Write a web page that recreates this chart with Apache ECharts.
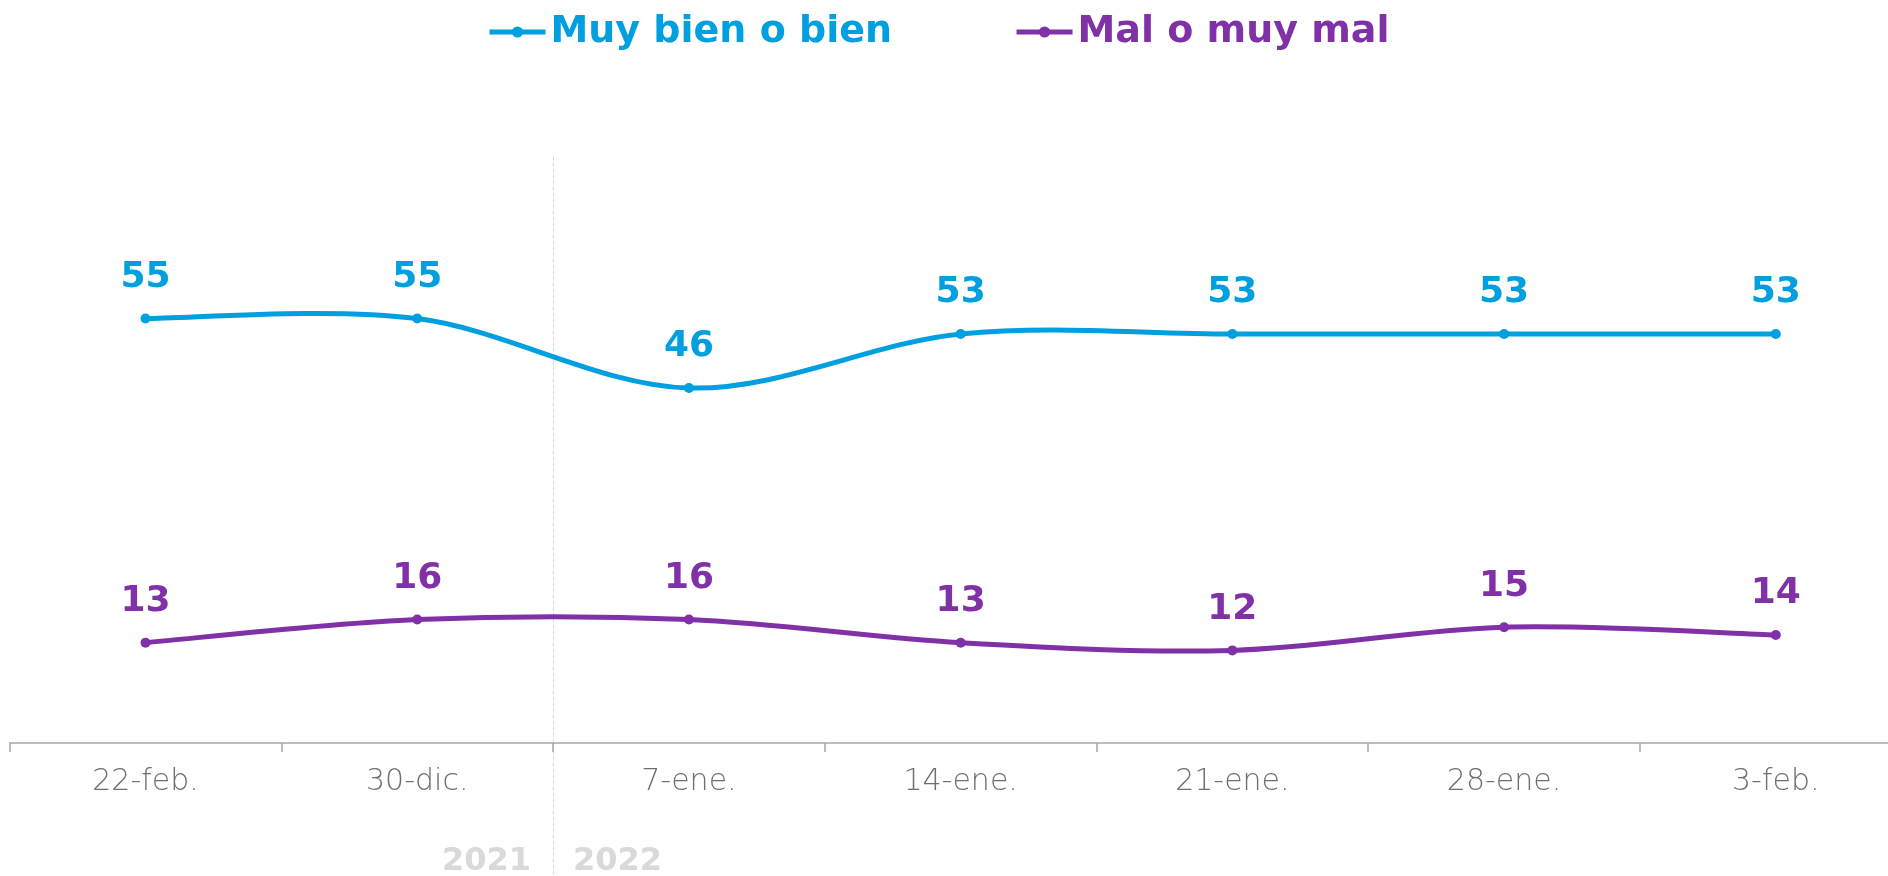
<!DOCTYPE html>
<html>
<head>
<meta charset="utf-8">
<script src="https://cdn.jsdelivr.net/npm/echarts@6/dist/echarts.min.js"></script>
<style>
  html, body { margin: 0; padding: 0; background: #fff; }
  #chart { width: 1888px; height: 876px; }
</style>
</head>
<body>
<div id="chart"></div>
<script>
const categories = ['22-feb.', '30-dic.', '7-ene.', '14-ene.', '21-ene.', '28-ene.', '3-feb.'];
const bienValues = [55, 55, 46, 53, 53, 53, 53];
const malValues = [13, 16, 16, 13, 12, 15, 14];
const yearLabels = ['2021', '2022'];

const BLUE = '#009fe0';
const PURPLE = '#8031a7';
const FONT = '"DejaVu Sans", sans-serif';
const CLEAR = 'rgba(0,0,0,0)';

const chart = echarts.init(document.getElementById('chart'));

// markers + value labels; the stroke itself comes from curveSeries below
function pointSeries(name, data, color) {
  return {
    name,
    type: 'line',
    data,
    z: 3,
    symbol: 'circle',
    symbolSize: 10,
    itemStyle: { color },
    lineStyle: { color, width: 5, opacity: 0 },
    label: {
      show: true,
      position: 'top',
      distance: 18,
      color,
      fontFamily: FONT,
      fontWeight: 'bold',
      fontSize: 36,
    },
  };
}

// Catmull-Rom style curve (allows the small overshoot the original has,
// which echarts' own smooth clamps away)
function curveSeries(name, values, color) {
  return {
    name,
    type: 'custom',
    z: 2,
    silent: true,
    data: values.map((v, i) => [i, v]),
    encode: { x: 0, y: 1 },
    renderItem(params, api) {
      if (params.dataIndex !== 0) return null;
      const pts = values.map((v, i) => api.coord([i, v]));
      let d = 'M' + pts[0][0] + ' ' + pts[0][1];
      for (let i = 0; i < pts.length - 1; i++) {
        const p0 = pts[i - 1] || pts[i];
        const p1 = pts[i];
        const p2 = pts[i + 1];
        const p3 = pts[i + 2] || pts[i + 1];
        const c1x = p1[0] + (p2[0] - p0[0]) / 6;
        const c1y = p1[1] + (p2[1] - p0[1]) / 6;
        const c2x = p2[0] - (p3[0] - p1[0]) / 6;
        const c2y = p2[1] - (p3[1] - p1[1]) / 6;
        d += ' C' + c1x + ' ' + c1y + ' ' + c2x + ' ' + c2y + ' ' + p2[0] + ' ' + p2[1];
      }
      return {
        type: 'path',
        shape: { pathData: d },
        style: { stroke: color, lineWidth: 5, fill: null, lineCap: 'round' },
      };
    },
  };
}

chart.setOption({
  animation: false,
  legend: {
    left: 482,
    top: 5,
    itemWidth: 56,
    itemHeight: 14,
    itemGap: 122,
    lineStyle: { width: 5, opacity: 1 },
    data: [
      { name: 'Muy bien o bien', textStyle: { color: BLUE } },
      { name: 'Mal o muy mal', textStyle: { color: PURPLE } },
    ],
    textStyle: { fontFamily: FONT, fontWeight: 'bold', fontSize: 38, lineHeight: 44 },
  },
  grid: [
    // plot area, x axis at the bottom edge
    { left: 9.65, top: 156.5, width: 1902, height: 586.5, outerBoundsMode: 'none', containLabel: false },
    // same columns, running to the page bottom: only carries the 2021/2022 divider
    { left: 9.65, top: 156.5, width: 1902, height: 719.5, outerBoundsMode: 'none', containLabel: false },
  ],
  xAxis: [
    {
      type: 'category',
      gridIndex: 0,
      data: categories,
      boundaryGap: true,
      axisLine: { lineStyle: { color: '#a6a6a6', width: 1.5 } },
      axisTick: { show: true, length: 9, lineStyle: { color: '#a6a6a6', width: 1.5 } },
      axisLabel: { color: '#6f6f6f', fontFamily: FONT, fontWeight: 300, fontSize: 30, margin: 24 },
      splitLine: { show: false },
    },
    {
      type: 'category',
      gridIndex: 1,
      data: categories,
      boundaryGap: true,
      axisLine: { show: false },
      axisTick: { show: false },
      axisLabel: { show: false },
      splitLine: {
        show: true,
        lineStyle: {
          color: [CLEAR, CLEAR, '#d9d9d9', CLEAR, CLEAR, CLEAR, CLEAR, CLEAR],
          type: 'dashed',
          width: 1,
        },
      },
    },
  ],
  yAxis: [
    { type: 'value', gridIndex: 0, min: 0, max: 76, show: false },
    { type: 'value', gridIndex: 1, min: 0, max: 1, show: false },
  ],
  graphic: [
    {
      type: 'text',
      right: 1888 - 531,
      top: 846,
      style: { text: yearLabels[0], fill: '#d9d9d9', font: 'bold 32px ' + FONT },
    },
    {
      type: 'text',
      left: 573,
      top: 846,
      style: { text: yearLabels[1], fill: '#d9d9d9', font: 'bold 32px ' + FONT },
    },
  ],
  series: [
    curveSeries('bienCurve', bienValues, BLUE),
    curveSeries('malCurve', malValues, PURPLE),
    pointSeries('Muy bien o bien', bienValues, BLUE),
    pointSeries('Mal o muy mal', malValues, PURPLE),
  ],
});
</script>
</body>
</html>
